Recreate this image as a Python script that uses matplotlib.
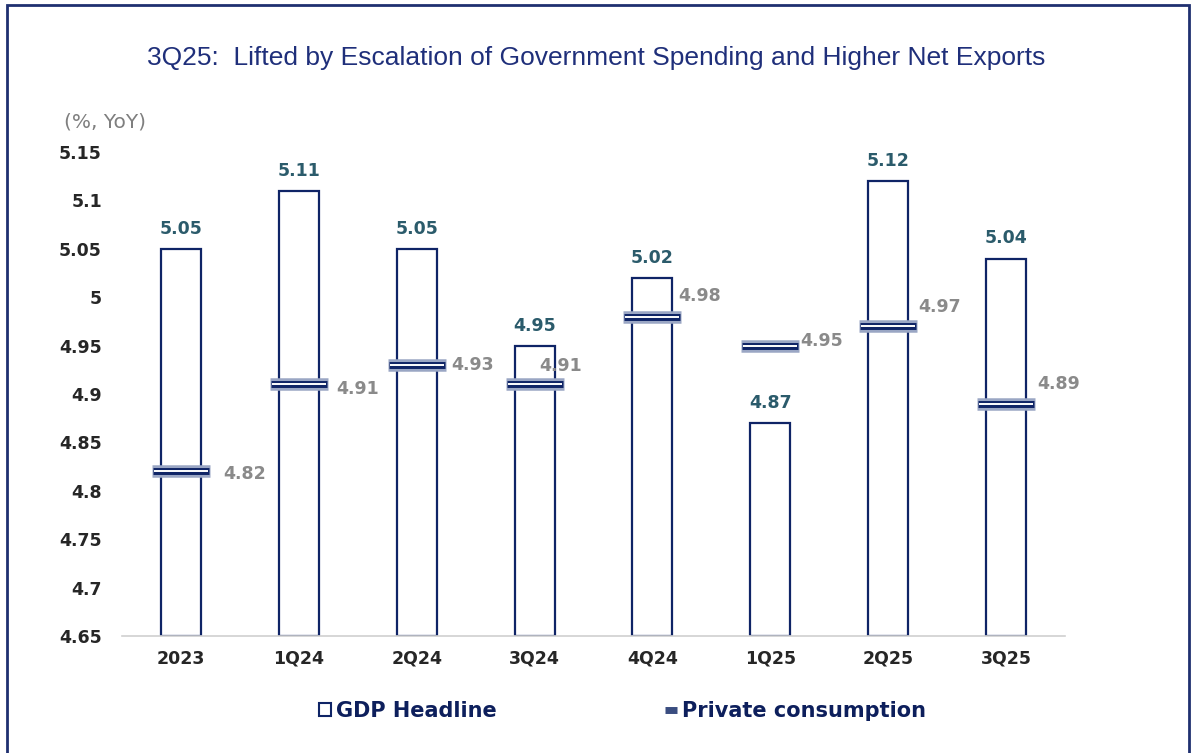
import matplotlib.pyplot as plt
from matplotlib.patches import Rectangle, Patch
from matplotlib.lines import Line2D

plt.rcParams["font.family"] = ["DejaVu Sans"]

# -----------------------------
# Data
# -----------------------------
periods = ["2023", "1Q24", "2Q24", "3Q24", "4Q24", "1Q25", "2Q25", "3Q25"]
gdp_headline = [5.05, 5.11, 5.05, 4.95, 5.02, 4.87, 5.12, 5.04]
private_consumption = [4.82, 4.91, 4.93, 4.91, 4.98, 4.95, 4.97, 4.89]

# label offsets (points) for the private consumption values
pc_label_offsets = [(46, -2), (42, -3), (40, 0), (19, 13), (34, 15), (37, 3), (37, 14), (38, 14)]

NAVY = "#0f2466"
TEAL = "#2b5b6b"
GREY = "#8a8a8a"

fig = plt.figure(figsize=(11.93, 7.53), dpi=100)
ax = fig.add_axes([0.1023, 0.1554, 0.7904, 0.6426])

x = range(len(periods))

# GDP headline: hollow bars
ax.bar(x, [g - 4.65 for g in gdp_headline], bottom=4.65, width=0.34,
       facecolor="white", edgecolor=NAVY, linewidth=1.6, zorder=2)

for i, v in enumerate(gdp_headline):
    ax.annotate(f"{v:.2f}", (i, v), xytext=(0, 8), textcoords="offset points",
                ha="center", va="bottom", fontsize=12.5, fontweight="bold",
                color=TEAL)

# Private consumption: dash markers (layered to get the double-line look)
ax.plot(x, private_consumption, ls="none", marker="_", markersize=42,
        markeredgewidth=9, color="#9aa6c4", zorder=3)
ax.plot(x, private_consumption, ls="none", marker="_", markersize=40,
        markeredgewidth=5, color=NAVY, zorder=4)
ax.plot(x, private_consumption, ls="none", marker="_", markersize=39,
        markeredgewidth=1.4, color="white", zorder=5)

for i, v in enumerate(private_consumption):
    dx, dy = pc_label_offsets[i]
    ax.annotate(f"{v:.2f}", (i, v), xytext=(dx, dy), textcoords="offset points",
                ha="center", va="center", fontsize=12.5, fontweight="bold",
                color=GREY, zorder=6)

ax.set_xlim(-0.5, len(periods) - 0.5)
ax.set_ylim(4.65, 5.15)
ax.set_yticks([4.65, 4.7, 4.75, 4.8, 4.85, 4.9, 4.95, 5.0, 5.05, 5.1, 5.15])
ax.set_yticklabels(["4.65", "4.7", "4.75", "4.8", "4.85", "4.9", "4.95", "5",
                    "5.05", "5.1", "5.15"])
ax.set_xticks(list(x))
ax.set_xticklabels(periods)
for lbl in ax.get_xticklabels() + ax.get_yticklabels():
    lbl.set_fontweight("bold")
    lbl.set_fontsize(12.5)
    lbl.set_color("#262626")

ax.tick_params(axis="y", length=0, pad=14.5)
ax.tick_params(axis="x", length=0, pad=10)
for side in ["top", "right", "left"]:
    ax.spines[side].set_visible(False)
ax.spines["bottom"].set_color("#d0d0d0")
ax.spines["bottom"].set_linewidth(1.2)

fig.text(0.5, 0.923, "3Q25:  Lifted by Escalation of Government Spending and Higher Net Exports",
         ha="center", va="center", fontsize=19, color="#1f2f7a",
         family="Liberation Sans")
fig.text(0.054, 0.838, "(%, YoY)", ha="left", va="center", fontsize=14.5,
         color="#7f7f7f")

# Legend
handles = [
    Patch(facecolor="white", edgecolor=NAVY, linewidth=1.5),
    Line2D([0], [0], color="#3a4d80", lw=5, solid_capstyle="butt"),
]
leg = fig.legend(handles, ["GDP Headline", "Private consumption"],
                 loc="center", bbox_to_anchor=(0.522, 0.056), ncol=2,
                 frameon=False, handlelength=0.55, handleheight=0.55,
                 handletextpad=0.25, columnspacing=8.1,
                 prop={"weight": "bold", "size": 15})
for t in leg.get_texts():
    t.set_color("#0d1f5c")

# Outer frame
fig.patches.append(Rectangle((0.006, -0.02), 0.991, 1.013, transform=fig.transFigure,
                             fill=False, edgecolor="#1f3070", linewidth=2))

fig.savefig("out.png", dpi=100)
